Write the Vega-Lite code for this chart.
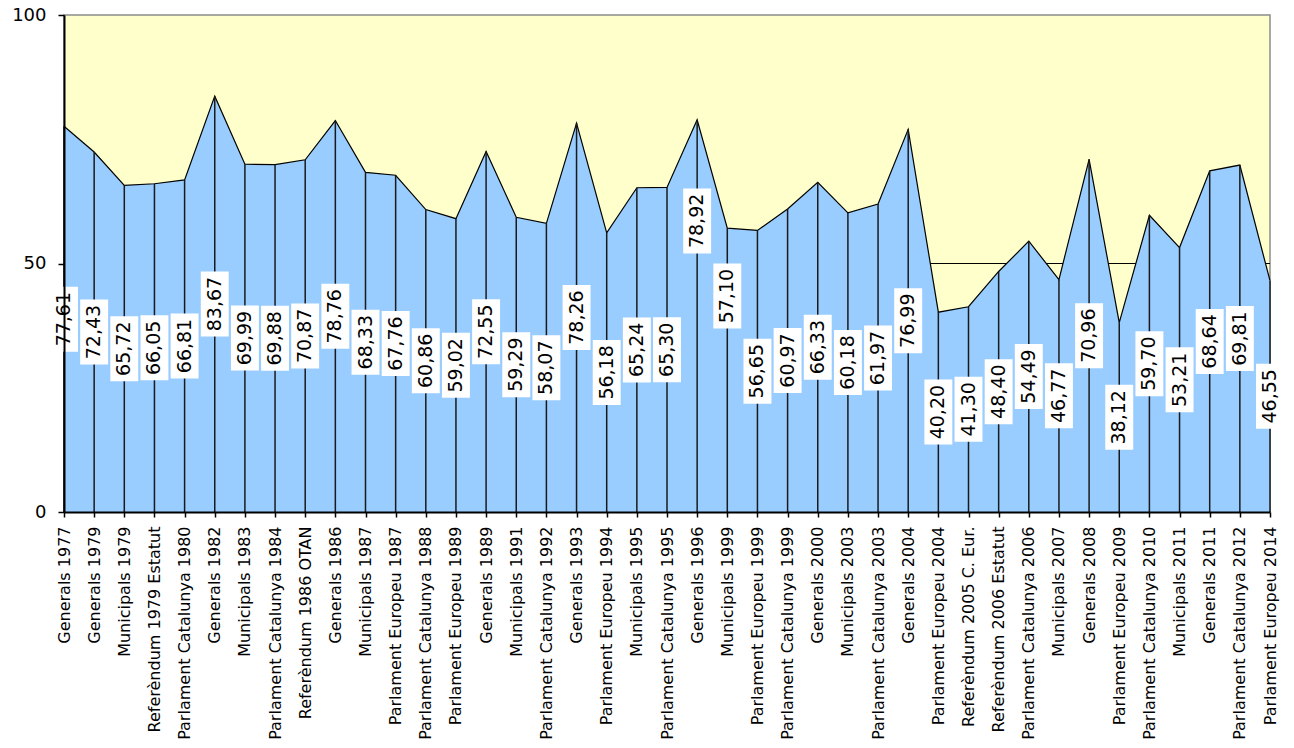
{
  "$schema": "https://vega.github.io/schema/vega-lite/v6.json",
  "width": 1206,
  "height": 497,
  "autosize": "none",
  "padding": {"left": 64, "top": 15, "right": 24, "bottom": 236},
  "config": {
    "font": "DejaVu Sans",
    "view": {"fill": "#FFFFCC", "stroke": "#8C8C8C", "strokeWidth": 1.5},
    "locale": {"number": {"decimal": ",", "thousands": ".", "grouping": [3], "currency": ["", " €"]}}
  },
  "data": {"values": [
    {"e": "Generals 1977", "v": 77.61},
    {"e": "Generals 1979", "v": 72.43},
    {"e": "Municipals 1979", "v": 65.72},
    {"e": "Referèndum 1979 Estatut", "v": 66.05},
    {"e": "Parlament Catalunya 1980", "v": 66.81},
    {"e": "Generals 1982", "v": 83.67},
    {"e": "Municipals 1983", "v": 69.99},
    {"e": "Parlament Catalunya 1984", "v": 69.88},
    {"e": "Referèndum 1986 OTAN", "v": 70.87},
    {"e": "Generals 1986", "v": 78.76},
    {"e": "Municipals 1987", "v": 68.33},
    {"e": "Parlament Europeu 1987", "v": 67.76},
    {"e": "Parlament Catalunya 1988", "v": 60.86},
    {"e": "Parlament Europeu 1989", "v": 59.02},
    {"e": "Generals 1989", "v": 72.55},
    {"e": "Municipals 1991", "v": 59.29},
    {"e": "Parlament Catalunya 1992", "v": 58.07},
    {"e": "Generals 1993", "v": 78.26},
    {"e": "Parlament Europeu 1994", "v": 56.18},
    {"e": "Municipals 1995", "v": 65.24},
    {"e": "Parlament Catalunya 1995", "v": 65.30},
    {"e": "Generals 1996", "v": 78.92},
    {"e": "Municipals 1999", "v": 57.10},
    {"e": "Parlament Europeu 1999", "v": 56.65},
    {"e": "Parlament Catalunya 1999", "v": 60.97},
    {"e": "Generals 2000", "v": 66.33},
    {"e": "Municipals 2003", "v": 60.18},
    {"e": "Parlament Catalunya 2003", "v": 61.97},
    {"e": "Generals 2004", "v": 76.99},
    {"e": "Parlament Europeu 2004", "v": 40.20},
    {"e": "Referèndum 2005 C. Eur.", "v": 41.30},
    {"e": "Referèndum 2006 Estatut", "v": 48.40},
    {"e": "Parlament Catalunya 2006", "v": 54.49},
    {"e": "Municipals 2007", "v": 46.77},
    {"e": "Generals 2008", "v": 70.96},
    {"e": "Parlament Europeu 2009", "v": 38.12},
    {"e": "Parlament Catalunya 2010", "v": 59.70},
    {"e": "Municipals 2011", "v": 53.21},
    {"e": "Generals 2011", "v": 68.64},
    {"e": "Parlament Catalunya 2012", "v": 69.81},
    {"e": "Parlament Europeu 2014", "v": 46.55}
  ]},
  "transform": [{"calculate": "datum.v / 2", "as": "mid"}],
  "encoding": {
    "x": {
      "field": "e", "type": "nominal", "sort": null,
      "scale": {"type": "point", "padding": 0},
      "axis": {
        "title": null, "labelAngle": 270, "labelAlign": "right", "labelBaseline": "middle",
        "labelFontSize": 16, "labelColor": "black", "labelPadding": 9, "labelLimit": 400,
        "labelOverlap": false, "domainColor": "black", "domainWidth": 2,
        "tickColor": "black", "tickSize": 5, "tickWidth": 1.5, "zindex": 1
      }
    }
  },
  "layer": [
    {
      "mark": {"type": "rule", "color": "black", "strokeWidth": 1},
      "encoding": {"x": null, "y": {"datum": 50, "type": "quantitative", "scale": {"domain": [0, 100], "nice": false}}}
    },
    {
      "mark": {"type": "area", "color": "#99CCFF", "opacity": 1, "line": {"color": "black", "strokeWidth": 1.2}},
      "encoding": {
        "y": {
          "field": "v", "type": "quantitative",
          "scale": {"domain": [0, 100], "nice": false},
          "axis": {
            "title": null, "values": [0, 50, 100], "grid": false,
            "labelFontSize": 18, "labelColor": "black", "labelPadding": 12,
            "domainColor": "black", "domainWidth": 2, "tickColor": "black",
            "tickSize": 6, "tickWidth": 1.5, "zindex": 1
          }
        }
      }
    },
    {
      "mark": {"type": "rule", "color": "#1a1a1a", "strokeWidth": 1.5},
      "encoding": {"y": {"field": "v", "type": "quantitative"}, "y2": {"datum": 0}}
    },
    {
      "mark": {"type": "point", "shape": "M-0.43,-1H0.43V1H-0.43Z", "filled": true, "color": "white", "opacity": 1, "size": 4225, "strokeWidth": 0,
               "yOffset": {"expr": "datum.e === 'Generals 1996' ? -95 : datum.e === 'Municipals 1999' ? -74 : 0"}},
      "encoding": {"y": {"field": "mid", "type": "quantitative"}}
    },
    {
      "mark": {"type": "text", "angle": 270, "fontSize": 19, "color": "black", "align": "center", "baseline": "middle",
               "yOffset": {"expr": "datum.e === 'Generals 1996' ? -95 : datum.e === 'Municipals 1999' ? -74 : 0"}},
      "encoding": {
        "y": {"field": "mid", "type": "quantitative"},
        "text": {"field": "v", "type": "quantitative", "format": ".2f"}
      }
    }
  ]
}
